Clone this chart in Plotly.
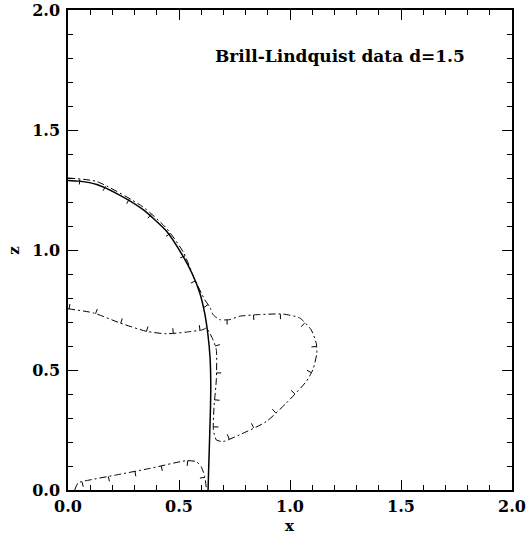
import numpy as np
import plotly.graph_objects as go

# Solid curve (x, z)
sol_x = [0.0, 0.05, 0.13, 0.22, 0.337, 0.444, 0.518, 0.56, 0.593, 0.615, 0.63, 0.64, 0.643, 0.642, 0.638, 0.634, 0.631]
sol_z = [1.29, 1.287, 1.273, 1.235, 1.169, 1.078, 0.974, 0.90, 0.823, 0.74, 0.65, 0.55, 0.45, 0.35, 0.22, 0.10, 0.0]

# Dash-dot contour 1 (upper loop)
dd1_x = [0.0, 0.13, 0.337, 0.444, 0.52, 0.571, 0.616, 0.64, 0.653, 0.683, 0.728, 0.773, 0.863, 0.968, 1.043,
         1.095, 1.118, 1.121, 1.103, 1.073, 0.983, 0.893, 0.773, 0.698, 0.668, 0.655, 0.658, 0.668, 0.668,
         0.653, 0.623, 0.608, 0.533, 0.444, 0.354, 0.234, 0.114, 0.0]
dd1_z = [1.30, 1.285, 1.18, 1.09, 0.99, 0.877, 0.793, 0.76, 0.731, 0.71, 0.71, 0.724, 0.731, 0.733, 0.717,
         0.668, 0.612, 0.571, 0.501, 0.452, 0.362, 0.285, 0.23, 0.202, 0.209, 0.25, 0.35, 0.459, 0.585,
         0.626, 0.675, 0.668, 0.658, 0.651, 0.661, 0.696, 0.738, 0.755]

# Dash-dot contour 2 (bottom)
dd2_x = [0.03, 0.046, 0.099, 0.219, 0.369, 0.533, 0.578, 0.60, 0.616, 0.623]
dd2_z = [0.0, 0.03, 0.042, 0.063, 0.09, 0.122, 0.118, 0.097, 0.056, 0.007]

title_text = "Brill-Lindquist data d=1.5"
x_title = "x"
z_title = "z"

FONT = "DejaVu Serif"
SX, SZ = 222.5, 240.0  # px per data unit


def hachures(xs, zs, spacing=27.0, length=5.0, offset=12.0):
    px = np.array(xs) * SX
    pz = np.array(zs) * SZ
    seg = np.hypot(np.diff(px), np.diff(pz))
    cum = np.concatenate([[0], np.cumsum(seg)])
    hx, hz = [], []
    s = offset
    while s < cum[-1]:
        i = np.searchsorted(cum, s) - 1
        i = max(0, min(i, len(seg) - 1))
        t = (s - cum[i]) / seg[i]
        x0 = px[i] + t * (px[i + 1] - px[i])
        z0 = pz[i] + t * (pz[i + 1] - pz[i])
        dx = (px[i + 1] - px[i]) / seg[i]
        dz = (pz[i + 1] - pz[i]) / seg[i]
        nx, nz = dz, -dx  # right-hand normal
        hx += [x0 / SX, (x0 + nx * length) / SX, None]
        hz += [z0 / SZ, (z0 + nz * length) / SZ, None]
        s += spacing
    return hx, hz


fig = go.Figure()
for xs, zs in [(dd1_x, dd1_z), (dd2_x, dd2_z)]:
    fig.add_trace(go.Scatter(x=xs, y=zs, mode="lines",
                             line=dict(color="black", width=1, dash="7px,3px,2px,3px", shape="spline", smoothing=0.6),
                             showlegend=False, hoverinfo="skip"))
    hx, hz = hachures(xs, zs)
    fig.add_trace(go.Scatter(x=hx, y=hz, mode="lines", line=dict(color="black", width=1),
                             showlegend=False, hoverinfo="skip"))

fig.add_trace(go.Scatter(x=sol_x, y=sol_z, mode="lines",
                         line=dict(color="black", width=1.5, shape="spline", smoothing=0.6),
                         showlegend=False, hoverinfo="skip"))

axis_common = dict(range=[0, 2], tickvals=[0, 0.5, 1.0, 1.5, 2.0],
                   ticktext=["0.0", "0.5", "1.0", "1.5", "2.0"],
                   ticks="inside", ticklen=10, tickwidth=1, tickcolor="black",
                   minor=dict(dtick=0.1, ticks="inside", ticklen=5, tickwidth=1, tickcolor="black"),
                   showline=True, linecolor="black", linewidth=1.5, mirror="ticks",
                   showgrid=False, zeroline=False, automargin=False,
                   ticklabeloverflow="allow",
                   tickfont=dict(family=FONT, size=16, color="black", weight="bold"))

fig.update_xaxes(**axis_common, ticklabelstandoff=1)
fig.update_yaxes(**axis_common, ticklabelstandoff=3)

fig.add_annotation(x=0.652, y=1.808, xref="x", yref="y", text="<b>" + title_text + "</b>",
                   showarrow=False, xanchor="left", yanchor="middle",
                   font=dict(family=FONT, size=17, color="black"))
# axis titles
fig.add_annotation(x=0.5, y=-0.0958, xref="paper", yref="paper", text="<b>" + x_title + "</b>",
                   showarrow=False, xanchor="center", yanchor="bottom", borderpad=0,
                   font=dict(family=FONT, size=15, color="black"))
fig.add_annotation(x=-0.122, y=0.5, xref="paper", yref="paper", text="<b>" + z_title + "</b>",
                   showarrow=False, xanchor="center", yanchor="middle", textangle=-90,
                   font=dict(family=FONT, size=15, color="black"))

fig.update_layout(width=526, height=536, margin=dict(l=68, r=14, t=10, b=46),
                  plot_bgcolor="white", paper_bgcolor="white")

fig.write_html("out.html")
